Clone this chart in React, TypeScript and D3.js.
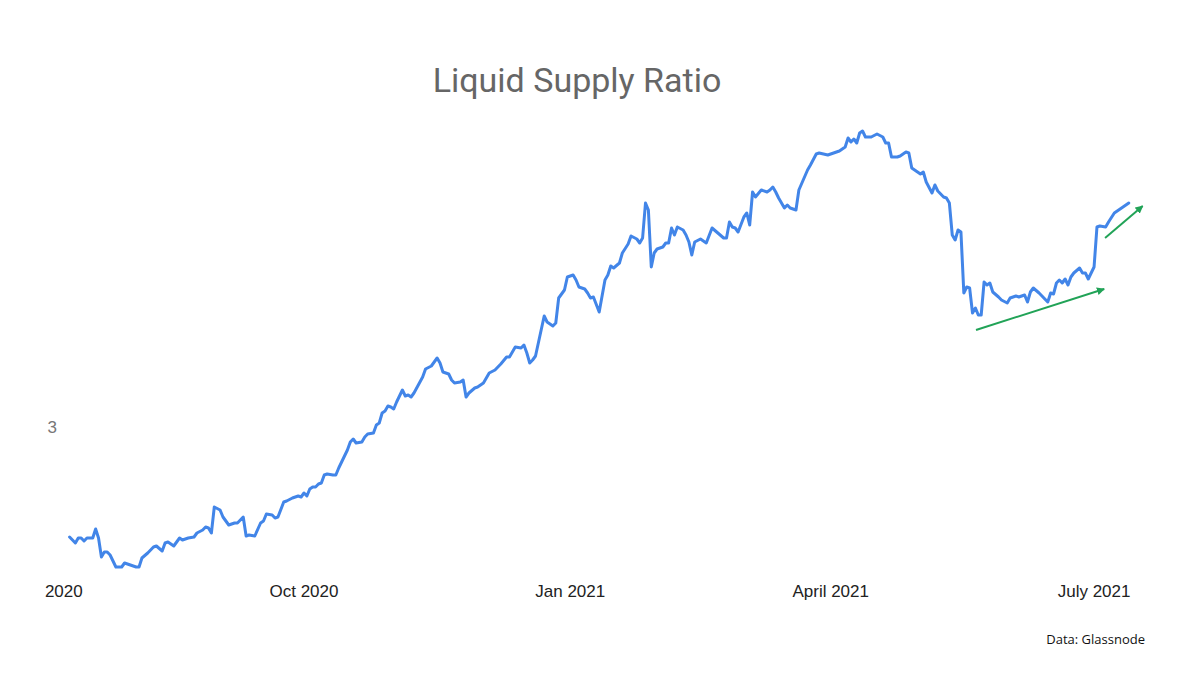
import React from "react";
import * as d3 from "d3";

// Series: days since 2020-07-10, and Liquid Supply Ratio values
const startDate = new Date(2020, 6, 10);
const days = [
  2,4,5,6,7,8,10,11,12,13,
  14,15,16,18,20,21,23,25,26,27,
  29,31,32,34,35,36,38,40,41,43,
  45,46,48,49,50,51,52,54,55,57,
  59,60,62,63,64,66,68,69,70,72,
  73,74,76,77,79,81,82,83,84,85,
  86,87,88,89,90,91,93,94,95,96,
  98,99,100,101,103,104,105,107,108,109,
  110,111,112,113,114,115,117,118,119,120,
  121,124,125,127,129,130,131,133,134,135,
  137,138,139,140,142,143,145,147,149,151,
  153,154,156,158,159,160,161,162,163,166,
  167,169,170,171,173,174,176,177,178,180,
  181,182,183,185,187,188,189,190,192,193,
  195,196,198,199,200,201,202,203,204,205,
  207,208,209,210,211,212,214,215,216,217,
  218,220,222,224,226,228,229,230,231,232,
  233,235,236,237,238,239,241,243,244,245,
  246,247,249,250,251,253,254,257,258,260,
  261,264,266,268,270,271,272,273,274,275,
  276,277,279,281,283,284,285,286,288,289,
  291,292,293,294,295,296,297,298,300,301,
  302,304,305,306,307,308,309,310,311,312,
  313,314,315,316,317,318,319,320,321,323,
  324,326,327,329,330,332,333,334,335,337,
  338,340,341,342,343,344,345,346,347,348,
  349,351,352,353,354,356,357,358,360,361,
  363,364,366,368,
];
const values = [
  2.890,2.884,2.889,2.889,2.886,2.889,2.889,2.898,2.889,2.870,
  2.875,2.875,2.872,2.860,2.860,2.864,2.862,2.860,2.860,2.869,
  2.874,2.880,2.881,2.876,2.884,2.885,2.881,2.889,2.887,2.889,
  2.890,2.894,2.897,2.900,2.899,2.894,2.920,2.917,2.910,2.902,
  2.904,2.904,2.910,2.891,2.892,2.891,2.904,2.906,2.913,2.912,
  2.909,2.910,2.925,2.926,2.929,2.931,2.930,2.934,2.931,2.938,
  2.940,2.940,2.943,2.944,2.952,2.953,2.952,2.952,2.959,2.965,
  2.977,2.985,2.988,2.984,2.985,2.990,2.993,2.994,3.002,3.004,
  3.014,3.016,3.021,3.020,3.018,3.025,3.037,3.031,3.032,3.030,
  3.034,3.050,3.058,3.061,3.069,3.064,3.055,3.053,3.047,3.044,
  3.045,3.047,3.030,3.034,3.039,3.040,3.044,3.054,3.057,3.063,
  3.070,3.070,3.080,3.079,3.082,3.074,3.064,3.067,3.071,3.111,
  3.105,3.101,3.104,3.129,3.137,3.150,3.152,3.147,3.140,3.138,
  3.134,3.129,3.130,3.115,3.147,3.152,3.161,3.159,3.164,3.174,
  3.183,3.191,3.188,3.184,3.189,3.224,3.217,3.160,3.174,3.178,
  3.180,3.184,3.184,3.199,3.192,3.200,3.197,3.192,3.185,3.172,
  3.185,3.188,3.184,3.199,3.194,3.189,3.189,3.205,3.200,3.199,
  3.195,3.210,3.214,3.202,3.235,3.230,3.237,3.235,3.237,3.240,
  3.235,3.229,3.219,3.222,3.219,3.217,3.237,3.257,3.262,3.273,
  3.274,3.272,3.274,3.276,3.280,3.289,3.285,3.288,3.284,3.294,
  3.296,3.290,3.290,3.293,3.290,3.284,3.284,3.270,3.270,3.271,
  3.275,3.274,3.259,3.257,3.255,3.253,3.255,3.245,3.234,3.242,
  3.236,3.230,3.229,3.224,3.192,3.187,3.197,3.195,3.134,3.140,
  3.139,3.114,3.119,3.112,3.112,3.145,3.142,3.144,3.135,3.130,
  3.127,3.124,3.129,3.131,3.130,3.132,3.125,3.135,3.139,3.134,
  3.131,3.125,3.134,3.133,3.144,3.147,3.144,3.148,3.142,3.150,
  3.154,3.159,3.154,3.154,3.148,3.160,3.200,3.201,3.200,3.205,
  3.214,3.216,3.220,3.224,
];

// Axis ticks
const xTickDates = [
  new Date(2020, 6, 10),
  new Date(2020, 9, 1),
  new Date(2021, 0, 1),
  new Date(2021, 3, 1),
  new Date(2021, 6, 1),
];
const xTickLabels = ["2020", "Oct 2020", "Jan 2021", "April 2021", "July 2021"];
const yTickValues = [3];

// Trend arrows (annotation): start/end as day offsets and values
const arrowStartDays = [315.2, 359.8];
const arrowStartValues = [3.097, 3.189];
const arrowEndDays = [359.5, 372.8];
const arrowEndValues = [3.138, 3.221];

const W = 1184;
const H = 680;

export default function App() {
  const dayToDate = (d: number) => new Date(startDate.getTime() + d * 86400000);
  const x = d3
    .scaleTime()
    .domain([startDate, dayToDate(369)])
    .range([63.8, 63.8 + 369 * 2.894]);
  const y = d3.scaleLinear().domain([2.8, 3.35]).range([627, 77]);

  const n = Math.min(days.length, values.length);
  const pts: [Date, number][] = [];
  for (let i = 0; i < n; i++) pts.push([dayToDate(days[i]), values[i]]);

  const line = d3
    .line<[Date, number]>()
    .x((d) => x(d[0]))
    .y((d) => y(d[1]));

  const green = "#21a357";

  return (
    <svg
      width={W}
      height={H}
      style={{ position: "absolute", left: 0, top: 0, background: "#fff" }}
    >
      <defs>
        <marker
          id="arrowhead"
          viewBox="0 0 10 10"
          refX="9"
          refY="5"
          markerWidth="4"
          markerHeight="4"
          orient="auto"
        >
          <path d="M0,0 L10,5 L0,10 z" fill={green} />
        </marker>
      </defs>
      <rect x={0} y={0} width={W} height={H} fill="#fff" />
      <text
        x={577}
        y={92}
        textAnchor="middle"
        fontFamily="Roboto, 'Noto Sans', sans-serif"
        fontSize={34}
        fill="#666666"
      >
        Liquid Supply Ratio
      </text>

      {yTickValues.map((v) => (
        <text
          key={v}
          x={57}
          y={y(v)}
          dy="0.35em"
          textAnchor="end"
          fontFamily="'Liberation Sans', Arial, sans-serif"
          fontSize={17}
          fill="#777777"
        >
          {v}
        </text>
      ))}

      {xTickDates.map((d, i) => (
        <text
          key={i}
          x={x(d)}
          y={597}
          textAnchor="middle"
          fontFamily="'Liberation Sans', Arial, sans-serif"
          fontSize={17}
          fill="#222222"
        >
          {xTickLabels[i]}
        </text>
      ))}

      <path
        d={line(pts) || ""}
        fill="none"
        stroke="#4285e8"
        strokeWidth={3}
        strokeLinejoin="round"
        strokeLinecap="round"
      />

      {arrowStartDays.map((sd, i) => (
        <line
          key={i}
          x1={x(dayToDate(sd))}
          y1={y(arrowStartValues[i])}
          x2={x(dayToDate(arrowEndDays[i]))}
          y2={y(arrowEndValues[i])}
          stroke={green}
          strokeWidth={2}
          markerEnd="url(#arrowhead)"
        />
      ))}

      <text
        x={1145}
        y={644}
        textAnchor="end"
        fontFamily="'Open Sans', 'Noto Sans', sans-serif"
        fontSize={13}
        fill="#111111"
      >
        Data: Glassnode
      </text>
    </svg>
  );
}
